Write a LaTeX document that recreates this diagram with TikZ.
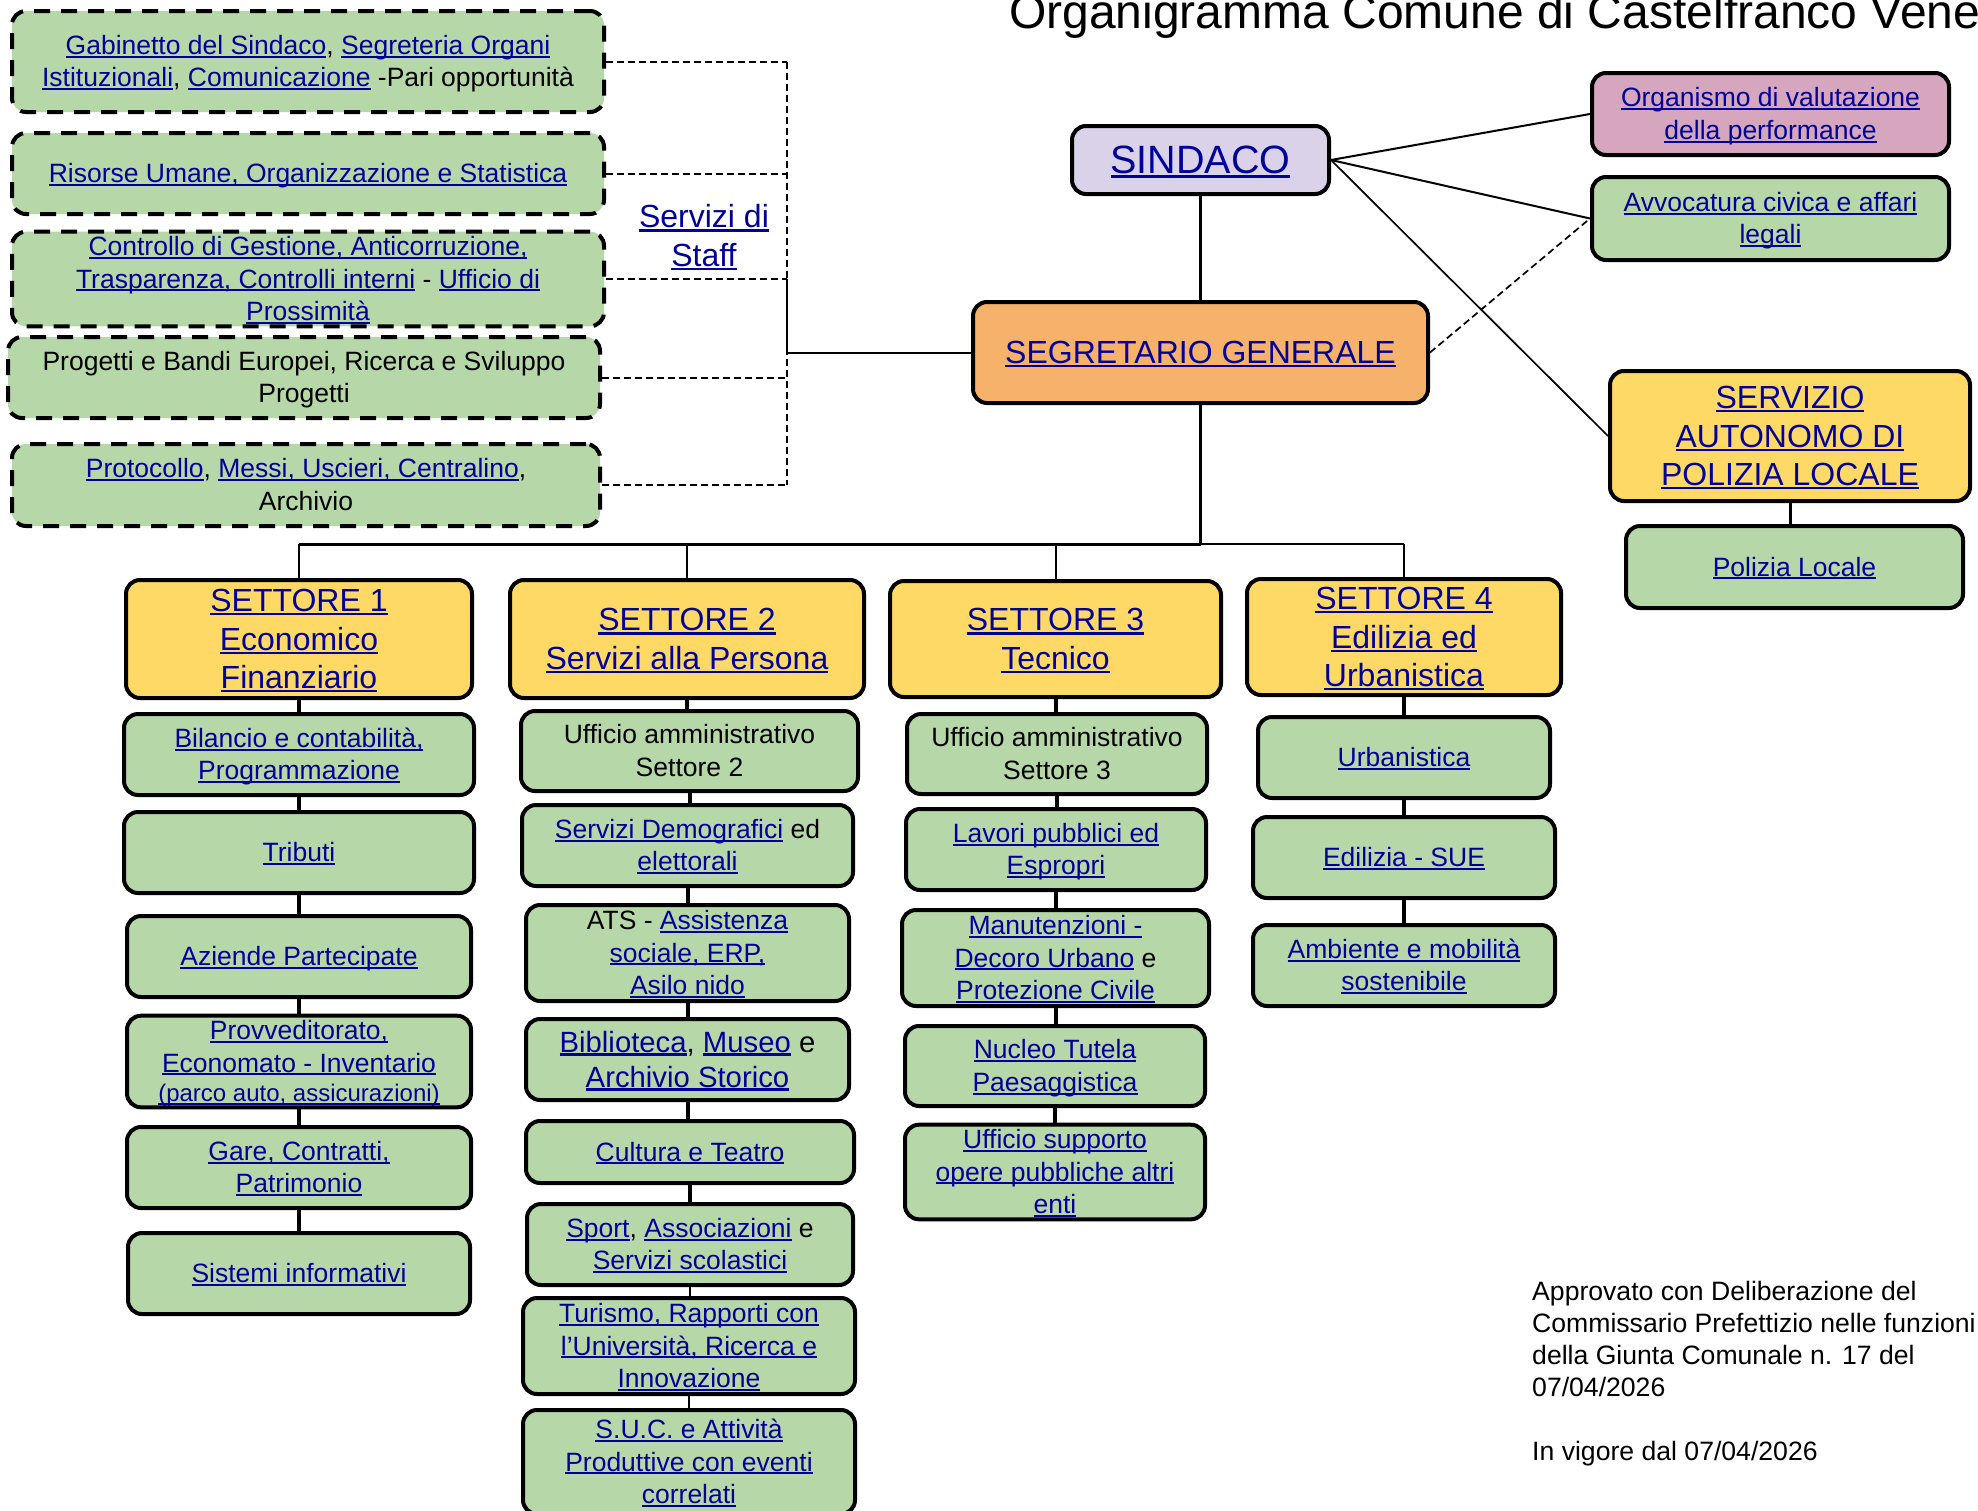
\documentclass[tikz,border=0pt]{standalone}
\usepackage{fontspec}
\setmainfont{Liberation Sans}
\usetikzlibrary{calc}
\definecolor{gr}{HTML}{B6D7A8}
\definecolor{yl}{HTML}{FFD966}
\definecolor{orq}{HTML}{F6B26B}
\definecolor{lav}{HTML}{D9D2E9}
\definecolor{pnk}{HTML}{D5A6BD}
\definecolor{lnk}{HTML}{000099}
\newcommand\lk[1]{{\color{lnk}\setbox0\hbox{#1}\rlap{\rule[-0.12em]{\wd0}{0.075em}}\box0}}
\newcommand\myasc{\rule[-0.212em]{0pt}{1.117em}}
\newcommand\fsN{\fontsize{26.5}{32.5}\selectfont}
\newcommand\fsL{\fontsize{32}{38.5}\selectfont}
\newcommand\fsM{\fontsize{29.3}{35}\selectfont}
\newcommand\fsX{\fontsize{39.5}{46}\selectfont}
\newcommand\bx[7]{%
  \pgfmathsetmacro\cx{(#3+#5)/2}\pgfmathsetmacro\cy{(#4+#6)/2}%
  \pgfmathsetmacro\ww{#5-#3-4}\pgfmathsetmacro\hh{#6-#4-4}%
  \node[#2, minimum width=\ww pt, minimum height=\hh pt] (#1) at (\cx,\cy) {\myasc#7\myasc};}
\tikzset{
  base/.style={rounded corners=14pt, draw=black, line width=4pt, inner sep=0pt, align=center, text=black},
  gbox/.style={base, fill=gr, font=\fsN},
  sbox/.style={gbox, dash pattern=on 16pt off 11pt},
  ybox/.style={base, fill=yl, font=\fsL},
  sgbox/.style={base, fill=orq, font=\fsL},
  sinbox/.style={base, fill=lav, font=\fsX},
  pbox/.style={base, fill=pnk, font=\fsN},
  thk/.style={draw=black, line width=4pt},
  med/.style={draw=black, line width=3pt},
  thn/.style={draw=black, line width=2pt},
  hair/.style={draw=black, line width=1.7pt},
  sdash/.style={draw=black, line width=2pt, dash pattern=on 7pt off 4pt},
}
\begin{document}
\begin{tikzpicture}[x=1pt,y=-1pt]
\useasboundingbox (0,0) rectangle (1978,1510);
\fill[white] (0,0) rectangle (1978,1510);

% title
\node[anchor=base west, font=\fontsize{48}{56}\selectfont, inner sep=0pt] (title) at (1009,28) {Organigramma Comune di Castelfranco Vene};

% staff
\bx{B1}{sbox}{10}{9}{606}{114}{\lk{Gabinetto del Sindaco}, \lk{Segreteria Organi}\\\lk{Istituzionali}, \lk{Comunicazione} -Pari opportunità}
\bx{B2}{sbox}{10}{131}{606}{216}{\lk{Risorse Umane, Organizzazione e Statistica}}
\bx{B3}{sbox}{10}{232}{606}{326}{\lk{Controllo di Gestione, Anticorruzione,}\\\lk{Trasparenza, Controlli interni} - \lk{Ufficio di}\\\lk{Prossimità}}
\bx{B4}{sbox}{6}{335}{602}{420}{Progetti e Bandi Europei, Ricerca e Sviluppo\\Progetti}
\bx{B5}{sbox}{10}{442}{602}{528}{\lk{Protocollo}, \lk{Messi, Uscieri, Centralino},\\Archivio}
\node[font=\fsL, align=center, inner sep=0pt] (staff) at (704,236) {\myasc\lk{Servizi di}\\\lk{Staff}\myasc};

% top
\bx{SIN}{sinbox}{1070}{124}{1331}{196}{\lk{SINDACO}}
\bx{SG}{sgbox}{971}{300}{1430}{405}{\lk{SEGRETARIO GENERALE}}
\bx{ORG}{pbox}{1590}{71}{1951}{157}{\lk{Organismo di valutazione}\\\lk{della performance}}
\bx{AVV}{gbox}{1590}{175}{1951}{262}{\lk{Avvocatura civica e affari}\\\lk{legali}}
\bx{SAP}{ybox}{1608}{369}{1972}{503}{\lk{SERVIZIO}\\\lk{AUTONOMO DI}\\\lk{POLIZIA LOCALE}}
\bx{POL}{gbox}{1624}{524}{1965}{610}{\lk{Polizia Locale}}

% settori
\bx{S1}{ybox}{124}{578}{474}{700}{\lk{SETTORE 1}\\\lk{Economico}\\\lk{Finanziario}}
\bx{S2}{ybox}{508}{578}{866}{700}{\lk{SETTORE 2}\\\lk{Servizi alla Persona}}
\bx{S3}{ybox}{888}{579}{1223}{699}{\lk{SETTORE 3}\\\lk{Tecnico}}
\bx{S4}{ybox}{1245}{577}{1563}{697}{\lk{SETTORE 4}\\\lk{Edilizia ed}\\\lk{Urbanistica}}

% column 1
\bx{C1a}{gbox}{122}{712}{476}{797}{\lk{Bilancio e contabilità,}\\\lk{Programmazione}}
\bx{C1b}{gbox}{122}{810}{476}{895}{\lk{Tributi}}
\bx{C1c}{gbox}{125}{914}{473}{999}{\lk{Aziende Partecipate}}
\bx{C1d}{gbox}{125}{1019}{473}{1104}{\lk{Provveditorato,}\\\lk{Economato - Inventario}\\[-3pt]{\fontsize{24}{28}\selectfont\lk{(parco auto, assicurazioni)}}}
\bx{C1e}{gbox}{125}{1125}{473}{1210}{\lk{Gare, Contratti,}\\\lk{Patrimonio}}
\bx{C1f}{gbox}{126}{1231}{472}{1316}{\lk{Sistemi informativi}}

% column 2
\bx{C2a}{gbox}{519}{709}{860}{793}{Ufficio amministrativo\\Settore 2}
\bx{C2b}{gbox}{520}{803}{855}{888}{\lk{Servizi Demografici} ed\\\lk{elettorali}}
\bx{C2c}{gbox}{524}{903}{851}{1003}{ATS - \lk{Assistenza}\\\lk{sociale, ERP,}\\\lk{Asilo nido}}
\bx{C2d}{gbox, font=\fsM}{524}{1017}{851}{1102}{\lk{Biblioteca}, \lk{Museo} e\\\lk{Archivio Storico}}
\bx{C2e}{gbox}{524}{1119}{856}{1185}{\lk{Cultura e Teatro}}
\bx{C2f}{gbox}{525}{1202}{855}{1287}{\lk{Sport}, \lk{Associazioni} e\\\lk{Servizi scolastici}}
\bx{C2g}{gbox}{521}{1296}{857}{1396}{\lk{Turismo, Rapporti con}\\\lk{l’Università, Ricerca e}\\\lk{Innovazione}}
\bx{C2h}{gbox}{521}{1408}{857}{1516}{\lk{S.U.C. e Attività}\\\lk{Produttive con eventi}\\\lk{correlati}}

% column 3
\bx{C3a}{gbox}{905}{712}{1209}{796}{Ufficio amministrativo\\Settore 3}
\bx{C3b}{gbox}{904}{807}{1208}{892}{\lk{Lavori pubblici ed}\\\lk{Espropri}}
\bx{C3c}{gbox}{900}{908}{1211}{1008}{\lk{Manutenzioni -}\\\lk{Decoro Urbano} e\\\lk{Protezione Civile}}
\bx{C3d}{gbox}{903}{1024}{1207}{1108}{\lk{Nucleo Tutela}\\\lk{Paesaggistica}}
\bx{C3e}{gbox}{903}{1123}{1207}{1221}{\lk{Ufficio supporto}\\\lk{opere pubbliche altri}\\\lk{enti}}

% column 4
\bx{C4a}{gbox}{1256}{715}{1552}{800}{\lk{Urbanistica}}
\bx{C4b}{gbox}{1251}{815}{1557}{900}{\lk{Edilizia - SUE}}
\bx{C4c}{gbox}{1251}{923}{1557}{1008}{\lk{Ambiente e mobilità}\\\lk{sostenibile}}

% note
\node[anchor=north west, align=left, font=\fontsize{26.6}{32}\selectfont, inner sep=0pt] (note) at (1532,1281)
 {Approvato con Deliberazione del\\Commissario Prefettizio nelle funzioni\\della Giunta Comunale n. 17 del\\07/04/2026\\[32pt]In vigore dal 07/04/2026};

% ---------- connectors ----------
\coordinate (sv) at (787,0);
\coordinate (bus) at (0,544);
\foreach \b in {B1,B2,B3,B4,B5} \draw[sdash] (\b.east) -- (\b.east -| sv);
\draw[sdash] (B1.east -| sv) -- (B5.east -| sv);
\draw[thn] (SG.west) -- (SG.west -| sv) -- (B3.east -| sv);

\draw[med] (SIN.south) -- (SG.north);
\draw[thn] (SIN.east) -- (ORG.west);
\draw[thn] (SIN.east) -- (AVV.west);
\draw[hair] (SIN.east) -- (SAP.west);
\draw[sdash, line width=1.7pt] (SG.east) -- (AVV.west);
\draw[med] (SAP.south) -- (SAP.south |- POL.north);

\draw[med] (SG.south) -- (SG.south |- bus);
\draw[med] (S1.north |- bus) -- (SG.south |- bus);
\draw[thn] (SG.south |- bus) -- (S4.north |- bus);
\foreach \s in {S1,S2,S3,S4} \draw[thn] (\s.north |- bus) -- (\s.north);

\draw[thk] (S1.south) -- (S1.south |- C1a.north);
\draw[thk] (C1a.south) -- (C1a.south |- C1b.north);
\draw[thk] (C1b.south) -- (C1b.south |- C1c.north);
\draw[thk] (C1c.south) -- (C1c.south |- C1d.north);
\draw[thk] (C1d.south) -- (C1d.south |- C1e.north);
\draw[thk] (C1e.south) -- (C1e.south |- C1f.north);

\draw[thk] (S2.south) -- (S2.south |- C2a.north);
\draw[thk] (C2a.south) -- (C2a.south |- C2b.north);
\draw[thk] (C2b.south) -- (C2b.south |- C2c.north);
\draw[thk] (C2c.south) -- (C2c.south |- C2d.north);
\draw[thk] (C2d.south) -- (C2d.south |- C2e.north);
\draw[thk] (C2e.south) -- (C2e.south |- C2f.north);
\draw[thn] (C2f.south) -- (C2f.south |- C2g.north);
\draw[thn] (C2g.south) -- (C2g.south |- C2h.north);

\draw[thk] (S3.south) -- (S3.south |- C3a.north);
\draw[thk] (C3a.south) -- (C3a.south |- C3b.north);
\draw[thk] (C3b.south) -- (C3b.south |- C3c.north);
\draw[thk] (C3c.south) -- (C3c.south |- C3d.north);
\draw[thk] (C3d.south) -- (C3d.south |- C3e.north);

\draw[thk] (S4.south) -- (S4.south |- C4a.north);
\draw[thk] (C4a.south) -- (C4a.south |- C4b.north);
\draw[thk] (C4b.south) -- (C4b.south |- C4c.north);
\end{tikzpicture}
\end{document}
